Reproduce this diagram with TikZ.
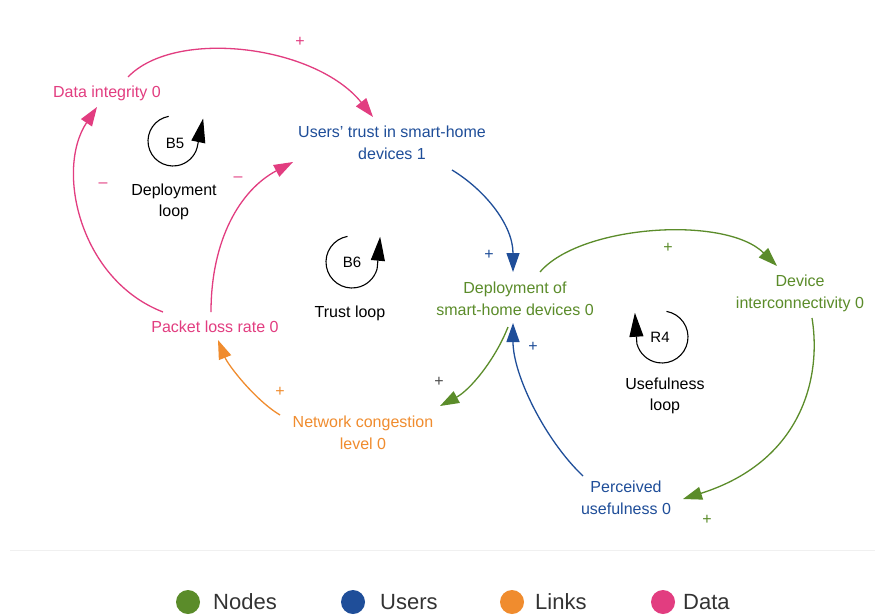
\documentclass[tikz,border=0pt]{standalone}
\usepackage{fontspec}
\setmainfont{Liberation Sans}
\usetikzlibrary{arrows.meta}
\definecolor{cpink}{HTML}{E23D80}
\definecolor{cblue}{HTML}{1F4E99}
\definecolor{cgreen}{HTML}{5B8C2A}
\definecolor{corange}{HTML}{F08C2E}
\begin{document}
\begin{tikzpicture}[x=1pt,y=-1pt,
  var/.style={align=center, font=\fontsize{16}{22}\selectfont, inner sep=1pt},
  link/.style={line width=1.3pt, -{Triangle[length=19pt,width=13pt]}},
  sign/.style={font=\fontsize{16}{16}\selectfont, inner sep=0pt},
  looplabel/.style={align=center, font=\fontsize{16}{21}\selectfont, inner sep=0pt},
  loopid/.style={font=\fontsize{15}{15}\selectfont, inner sep=0pt},
  looparc/.style={line width=1.1pt, -{Triangle[length=24pt,width=14pt]}},
  legdot/.style={circle, minimum size=24pt, inner sep=0pt},
  legtext/.style={anchor=west, font=\fontsize{22}{22}\selectfont, inner sep=0pt, text=black!80}
]
\useasboundingbox (0,0) rectangle (882,615);
\fill[white] (0,0) rectangle (882,615);
\draw[black!6, line width=1pt] (10,550) -- (875,550);

% variables
\node[var, text=cpink]   (di)  at (107,93)  {Data integrity 0};
\node[var, text=cblue]   (ut)  at (392,143) {Users' trust in smart-home\\devices 1};
\node[var, text=cgreen]  (dep) at (515,299) {Deployment of\\smart-home devices 0};
\node[var, text=cgreen]  (dev) at (800,293) {Device\\interconnectivity 0};
\node[var, text=cblue]   (pu)  at (626,498) {Perceived\\usefulness 0};
\node[var, text=corange] (nc)  at (363,433) {Network congestion\\level 0};
\node[var, text=cpink]   (pl)  at (215,327) {Packet loss rate 0};

% links
\draw[link, cpink] ([shift={(21,-16)}]di.center) .. controls +(47,-49) and +(-58,-72) .. ([shift={(-19,-26)}]ut.center);
\draw[link, cpink] ([shift={(-52,-15)}]pl.center) .. controls +(-83,-32) and +(-42,63) .. ([shift={(-10,14)}]di.center);
\draw[link, cpink] ([shift={(-4,-15)}]pl.center) .. controls +(0,-72) and +(-53,28) .. ([shift={(-99,19)}]ut.center);
\draw[link, cblue] ([shift={(60,27)}]ut.center) .. controls +(33,20) and +(0,-47) .. ([shift={(-2,-27)}]dep.center);
\draw[link, cgreen] ([shift={(25,-27)}]dep.center) .. controls +(40,-47) and +(-52,-51) .. ([shift={(-23,-27)}]dev.center);
\draw[link, cgreen] ([shift={(12,25)}]dev.center) .. controls +(10,62) and +(117,-37) .. ([shift={(57,1)}]pu.center);
\draw[link, cblue] ([shift={(-43,-22)}]pu.center) .. controls +(-38,-36) and +(0,52) .. ([shift={(-2,24)}]dep.center);
\draw[link, cgreen] ([shift={(-7,28)}]dep.center) .. controls +(-13,33) and +(30,-16) .. ([shift={(77,-27)}]nc.center);
\draw[link, corange] ([shift={(-83,-18)}]nc.center) .. controls +(-25,-15) and +(10,25) .. ([shift={(3,13)}]pl.center);

% polarity signs
\node[sign, text=cpink]   (s1) at (300,42)  {+};
\node[sign, text=cpink]   (s2) at (103,185) {–};
\node[sign, text=cpink]   (s3) at (238,179) {–};
\node[sign, text=cblue]   (s4) at (489,255) {+};
\node[sign, text=cgreen]  (s5) at (668,248) {+};
\node[sign, text=cgreen]  (s6) at (707,520) {+};
\node[sign, text=cblue]   (s7) at (533,347) {+};
\node[sign, text=black!70](s8) at (439,382) {+};
\node[sign, text=corange] (s9) at (280,392) {+};

% loop symbols
\begin{scope}[shift={(173,141)}, yscale=-1]
  \draw[looparc] (100:25) arc[start angle=100, end angle=345, radius=25] -- ++(6,29);
\end{scope}
\begin{scope}[shift={(352,262)}, yscale=-1]
  \draw[looparc] (100:26) arc[start angle=100, end angle=345, radius=26] -- ++(3,32);
\end{scope}
\begin{scope}[shift={(662,337)}, yscale=-1]
  \draw[looparc] (80:26) arc[start angle=80, end angle=-165, radius=26] -- ++(-2,31);
\end{scope}
\node[loopid] (b5) at (175,143) {B5};
\node[loopid] (b6) at (352,262) {B6};
\node[loopid] (r4) at (660,337) {R4};
\node[looplabel] (l5) at (174,202) {Deployment\\loop};
\node[looplabel] (l6) at (350,313) {Trust loop};
\node[looplabel] (l4) at (665,396) {Usefulness\\loop};

% legend
\node[legdot, fill=cgreen]  (gn) at (188,602) {};
\node[legtext] (gnt) at (213,602) {Nodes};
\node[legdot, fill=cblue]   (gu) at (353,602) {};
\node[legtext] (gut) at (380,602) {Users};
\node[legdot, fill=corange] (gl) at (512,602) {};
\node[legtext] (glt) at (535,602) {Links};
\node[legdot, fill=cpink]   (gd) at (663,602) {};
\node[legtext] (gdt) at (683,602) {Data};
\end{tikzpicture}
\end{document}
